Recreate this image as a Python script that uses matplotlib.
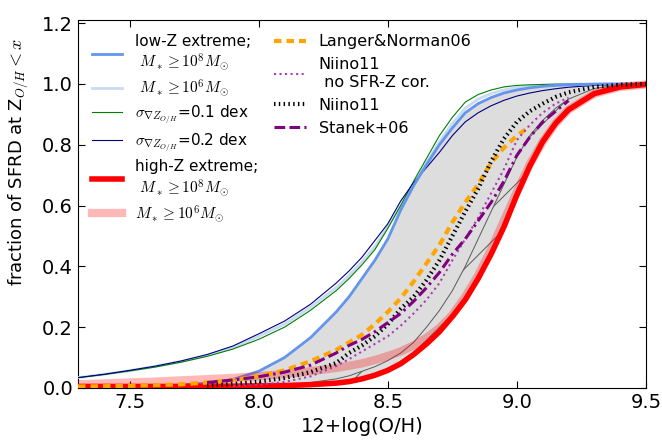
import numpy as np
import matplotlib
matplotlib.use("Agg")
import matplotlib.pyplot as plt

plt.rcParams['mathtext.fontset'] = 'cm'
plt.rcParams['font.family'] = ['DejaVu Sans']
plt.rcParams['hatch.linewidth'] = 0.7

nan = np.nan
# metallicity grid 12+log(O/H)
X = [7.3, 7.4, 7.5, 7.6, 7.7, 7.8, 7.9, 8.0, 8.1, 8.2, 8.3,
     8.35, 8.4, 8.45, 8.5, 8.55, 8.6, 8.65, 8.7, 8.75, 8.8, 8.85,
     8.9, 8.95, 9.0, 9.05, 9.1, 9.15, 9.2, 9.3, 9.4, 9.5]

lowZ_1e8 = [.002, .003, .004, .006, .010, .016, .028, .055, .10, .165, .25,
            .30, .36, .42, .49, .585, .665, .735, .80, .855, .905, .935,
            .955, .97, .98, .987, .992, .995, .997, .999, 1.0, 1.0]
lowZ_1e6 = [.034, .045, .057, .071, .087, .107, .133, .17, .21, .265, .33,
            .37, .415, .465, .53, .60, .67, .74, .81, .87, .92, .95,
            .968, .98, .988, .993, .996, .998, .999, 1.0, 1.0, 1.0]
sigma01 = [.034, .044, .056, .069, .085, .104, .128, .16, .20, .255, .32,
           .36, .405, .455, .525, .60, .68, .755, .83, .89, .94, .965,
           .98, .99, .995, .997, .998, .999, .999, 1.0, 1.0, 1.0]
sigma02 = [.034, .045, .058, .072, .089, .110, .138, .178, .22, .275, .345,
           .385, .43, .485, .54, .615, .675, .725, .775, .83, .875, .905,
           .928, .946, .96, .970, .978, .984, .989, .995, .998, 1.0]
highZ_1e8 = [.005, .005, .005, .005, .005, .006, .006, .007, .008, .011, .016,
             .021, .030, .042, .058, .080, .11, .145, .185, .235, .29, .36,
             .44, .53, .635, .73, .81, .87, .915, .968, .99, .998]
highZ_1e6 = [.012, .015, .018, .021, .025, .029, .033, .039, .046, .055, .066,
             .073, .081, .092, .105, .12, .14, .165, .197, .24, .30, .37,
             .455, .55, .645, .735, .81, .87, .915, .968, .99, .998]
hatch_edge = [.005, .005, .005, .005, .005, .006, .006, .007, .009, .018, .03,
              .04, .055, .07, .09, .115, .15, .20, .255, .32, .40, .49,
              .58, .67, .76, .83, .88, .92, .95, .985, .997, 1.0]
langer06 = [.005, .006, .007, .009, .012, .018, .026, .038, .058, .088, .125,
            .15, .175, .21, .25, .295, .35, .41, .47, .545, .61, .67,
            .74, .79, .83, .86, nan, nan, nan, nan, nan, nan]
niino_nocor = [nan, nan, nan, nan, nan, nan, .006, .011, .02, .038, .072,
               .095, .12, .145, .17, .205, .245, .29, .345, .42, .49, .56,
               .64, .72, .815, .865, .905, .935, .955, nan, nan, nan]
niino11 = [nan, nan, nan, nan, nan, .008, .013, .021, .033, .052, .082,
           .115, .14, .17, .21, .26, .30, .355, .42, .50, .58, .655,
           .745, .82, .875, .91, .935, .957, .972, .99, .997, 1.0]
stanek06 = [nan, nan, nan, nan, nan, .018, .026, .037, .052, .075, .115,
            .14, .16, .185, .215, .245, .285, .33, .38, .44, .49, .55,
            .61, .68, .765, .825, .875, .91, .945, nan, nan, nan]

x_ticks = [7.5, 8.0, 8.5, 9.0, 9.5]
y_ticks = [0.0, 0.2, 0.4, 0.6, 0.8, 1.0, 1.2]

X = np.array(X)
fig = plt.figure(figsize=(6.62, 4.41), dpi=100)
ax = fig.add_axes([0.1178, 0.1202, 0.858, 0.8344])

ax.fill_between(X, highZ_1e8, lowZ_1e8, color='#dddddd', lw=0, zorder=1)
ax.fill_between(X, highZ_1e8, hatch_edge, facecolor='none', edgecolor='#5a5a5a',
                hatch='/', lw=0.7, zorder=2)

l1, = ax.plot(X, lowZ_1e8, color='cornflowerblue', lw=2, zorder=5,
              label='low-Z extreme;\n $M_*\\geq10^8M_{\\odot}$')
l2, = ax.plot(X, lowZ_1e6, color='#c9daf2', lw=2, zorder=4,
              label=' $M_*\\geq10^6M_{\\odot}$')
l3, = ax.plot(X, sigma01, color='green', lw=0.8, zorder=4,
              label='$\\sigma_{\\nabla Z_{O/H}}$=0.1 dex')
l4, = ax.plot(X, sigma02, color='navy', lw=0.8, zorder=4,
              label='$\\sigma_{\\nabla Z_{O/H}}$=0.2 dex')
l5, = ax.plot(X, highZ_1e8, color='red', lw=4, zorder=6,
              label='high-Z extreme;\n $M_*\\geq10^8M_{\\odot}$')
l6, = ax.plot(X, highZ_1e6, color='red', alpha=0.28, lw=6, zorder=5,
              label='$M_*\\geq10^6M_{\\odot}$')

r1, = ax.plot(X, langer06, color='orange', lw=3, ls=(0, (1.8, 1.2)), zorder=7,
              label='Langer&Norman06')
r2, = ax.plot(X, niino_nocor, color='#a83cb4', lw=1.5, ls=':', zorder=7,
              label='Niino11\n no SFR-Z cor.')
r3, = ax.plot(X, niino11, color='black', lw=3, ls=(0, (0.35, 0.8)), zorder=7,
              label='Niino11')
r4, = ax.plot(X, stanek06, color='purple', lw=2.2,
              ls=(0, (3.5, 1.4, 3.5, 1.4, 0.8, 1.4)),
              zorder=7, label='Stanek+06')

ax.set_xlim(7.3, 9.5)
ax.set_ylim(0, 1.21)
ax.set_xticks(x_ticks)
ax.set_yticks(y_ticks)
ax.set_xticklabels([f'{v:.1f}' for v in x_ticks])
ax.set_yticklabels([f'{v:.1f}' for v in y_ticks])
ax.tick_params(direction='in', top=True, right=True, length=5, labelsize=14)
ax.set_xlabel('12+log(O/H)', fontsize=14)
ax.set_ylabel('fraction of SFRD at Z$_{O/H}<x$', fontsize=13)
ax.yaxis.set_label_coords(-0.084, 0.614)

leg1 = ax.legend(handles=[l1, l2, l3, l4, l5, l6], loc='upper left',
                 frameon=False, fontsize=11, labelspacing=0.35)
ax.add_artist(leg1)
ax.legend(handles=[r1, r2, r3, r4], loc='upper left', bbox_to_anchor=(0.32, 1.0),
          frameon=False, fontsize=11.5)

fig.savefig('out.png', dpi=100)
